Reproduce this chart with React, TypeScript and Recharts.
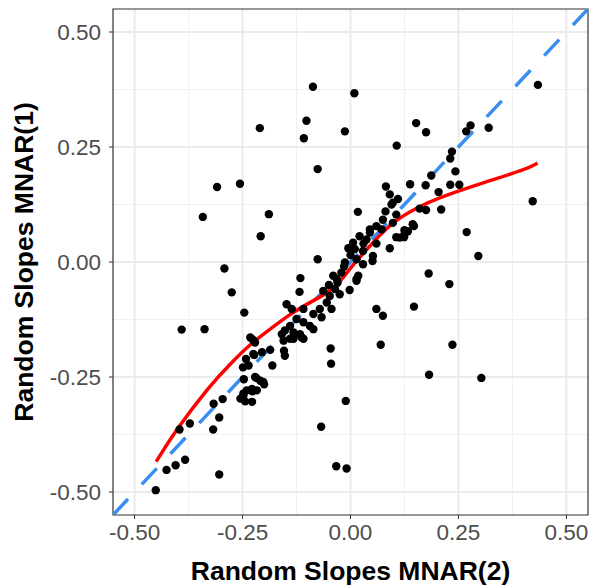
import {
  ComposedChart, Scatter, Line, XAxis, YAxis, CartesianGrid,
  ReferenceArea, Label,
} from "recharts";

const ptX = [
  -0.087, -0.210, -0.102, -0.108, -0.013, -0.076, 0.009, 0.434, 0.152, 0.175,
  0.107, 0.278, 0.268, 0.320, 0.235, 0.231, 0.243, 0.187, -0.309, -0.256,
  -0.342, -0.189, -0.208, -0.292, -0.275, -0.246, -0.391, -0.338, -0.226, -0.076,
  -0.116, -0.118, 0.082, 0.138, 0.174, 0.231, 0.252, 0.204, 0.422, 0.017,
  0.210, 0.175, 0.160, 0.110, 0.095, 0.081, 0.147, 0.125, 0.106, 0.124,
  0.091, 0.269, 0.296, 0.045, 0.006, 0.051, 0.181, 0.229, 0.014, 0.060,
  0.075, 0.147, 0.070, 0.236, -0.002, -0.451, -0.426, -0.405, -0.383, -0.396,
  -0.372, -0.318, -0.304, -0.317, -0.296, -0.304, -0.255, -0.244, -0.228, -0.248,
  -0.227, -0.218, -0.200, -0.247, -0.249, -0.242, -0.223, -0.181, -0.152, -0.154,
  -0.186, -0.155, -0.132, -0.109, -0.046, -0.045, -0.011, -0.068, -0.033, -0.009,
  0.182, 0.303, -0.232, -0.221, -0.225, -0.205, -0.236, -0.209, -0.202, -0.221,
  -0.240, -0.228, -0.217, -0.248, -0.152, -0.140, -0.113, -0.132, -0.013, -0.021,
  -0.032, -0.036, -0.048, -0.063, -0.055, -0.071, -0.044, -0.086, -0.067, -0.094,
  -0.086, -0.109, -0.125, -0.140, -0.148, -0.136, -0.109, -0.159, -0.117, 0.091,
  0.098, 0.106, 0.075, 0.098, 0.072, 0.060, 0.045, 0.037, 0.021, 0.010,
  0.029, 0.052, 0.114, 0.125, 0.144, 0.133, 0.014, 0.029, 0.018, 0.014,
  -0.030, -0.040, -0.025, -0.050, -0.015, 0.000, -0.005, 0.030, 0.060,
];
const ptY = [
  0.381, 0.291, 0.307, 0.269, 0.284, 0.202, 0.367, 0.385, 0.302, 0.282,
  0.253, 0.297, 0.284, 0.292, 0.240, 0.225, 0.197, 0.188, 0.163, 0.170,
  0.098, 0.104, 0.056, -0.014, -0.066, -0.110, -0.147, -0.146, -0.169, 0.006,
  -0.035, -0.065, 0.164, 0.169, 0.167, 0.168, 0.168, 0.152, 0.132, 0.109,
  0.114, 0.113, 0.116, 0.137, 0.125, 0.110, 0.078, 0.069, 0.054, 0.054,
  0.030, 0.065, 0.013, 0.071, 0.042, 0.002, -0.025, -0.048, -0.037, -0.102,
  -0.117, -0.097, -0.180, -0.180, -0.061, -0.496, -0.452, -0.442, -0.430, -0.364,
  -0.351, -0.364, -0.462, -0.308, -0.298, -0.338, -0.297, -0.303, -0.304, -0.286,
  -0.281, -0.252, -0.266, -0.255, -0.229, -0.211, -0.202, -0.225, -0.204, -0.193,
  -0.191, -0.171, -0.167, -0.167, -0.188, -0.221, -0.302, -0.358, -0.444, -0.449,
  -0.245, -0.252, -0.164, -0.175, -0.200, -0.196, -0.225, -0.258, -0.261, -0.250,
  -0.279, -0.276, -0.279, -0.290, -0.149, -0.167, -0.164, -0.153, -0.001, -0.023,
  -0.037, -0.059, -0.074, -0.063, -0.088, -0.102, -0.102, -0.113, -0.120, -0.139,
  -0.146, -0.131, -0.124, -0.139, -0.092, -0.102, -0.102, -0.157, -0.157, 0.147,
  0.129, 0.103, 0.092, 0.085, 0.071, 0.078, 0.064, 0.049, 0.056, 0.028,
  0.024, 0.013, 0.053, 0.060, 0.082, 0.067, 0.006, -0.005, -0.030, -0.041,
  -0.045, -0.030, -0.070, -0.050, -0.010, 0.015, 0.030, 0.040, 0.040,
];

// loess smoother
const smoothX = [-0.450, -0.402, -0.325, -0.278, -0.232, -0.186, -0.140, -0.094, -0.055, -0.032, -0.013, 0.000, 0.045, 0.091, 0.152, 0.214, 0.306, 0.406, 0.433];
const smoothY = [-0.434, -0.362, -0.268, -0.221, -0.178, -0.146, -0.113, -0.088, -0.068, -0.050, -0.030, -0.012, 0.035, 0.083, 0.118, 0.143, 0.172, 0.201, 0.215];

// identity line y = x
const diagX = [-0.55, 0.55];
const diagY = [-0.55, 0.55];

const ticks = [-0.5, -0.25, 0, 0.25, 0.5];
const minorTicks = [-0.375, -0.125, 0.125, 0.375];

const points = ptX.map((x, i) => ({ x, y: ptY[i] }));
const smooth = smoothX.map((x, i) => ({ x, y: smoothY[i] }));
const diag = diagX.map((x, i) => ({ x, y: diagY[i] }));

const FONT = "'Liberation Sans', Arial, sans-serif";
const tickStyle = { fontFamily: FONT, fontSize: 22.5, fill: "#4d4d4d" };
const titleStyle = { fontFamily: FONT, fontSize: 26.5, fontWeight: 700, fill: "#000" };

const Dot = (p: any) => <circle cx={p.cx} cy={p.cy} r={4.2} fill="#000" />;

export default function App() {
  return (
    <div style={{ position: "absolute", left: 0, top: 0, background: "#fff" }}>
      <ComposedChart width={592} height={587} margin={{ top: 9, right: 4, left: 0, bottom: 0 }}>
        <CartesianGrid
          horizontalValues={minorTicks} verticalValues={minorTicks}
          stroke="#f0f0f0" strokeWidth={1} fill="none"
        />
        <CartesianGrid
          horizontalValues={ticks} verticalValues={ticks}
          stroke="#ebebeb" strokeWidth={2} fill="none"
        />
        <XAxis
          type="number" dataKey="x" domain={[-0.55, 0.55]} ticks={ticks}
          allowDataOverflow height={72}
          tickFormatter={(v: number) => v.toFixed(2)}
          tick={tickStyle} tickSize={4} tickMargin={5}
          axisLine={false} tickLine={{ stroke: "#333" }}
        >
          <Label value="Random Slopes MNAR(2)" position="insideBottom" offset={7} style={titleStyle} />
        </XAxis>
        <YAxis
          type="number" dataKey="y" domain={[-0.55, 0.55]} ticks={ticks}
          allowDataOverflow width={113}
          tickFormatter={(v: number) => v.toFixed(2)}
          tick={tickStyle} tickSize={4} tickMargin={8}
          axisLine={false} tickLine={{ stroke: "#333" }}
        >
          <Label
            content={(props: any) => {
              const vb = props.viewBox;
              const cy = vb.y + vb.height / 2;
              return (
                <text
                  x={24} y={cy} transform={`rotate(-90, 24, ${cy})`}
                  textAnchor="middle" dominantBaseline="central" style={titleStyle}
                >
                  Random Slopes MNAR(1)
                </text>
              );
            }}
          />
        </YAxis>
        <Scatter data={points} dataKey="y" shape={Dot} isAnimationActive={false} />
        <Line
          data={diag} dataKey="y" type="linear" stroke="#3a8ef0" strokeWidth={3.5}
          strokeDasharray="22 20" dot={false} activeDot={false} isAnimationActive={false}
        />
        <Line
          data={smooth} dataKey="y" type="basis" stroke="#ff0000" strokeWidth={3.5}
          dot={false} activeDot={false} isAnimationActive={false}
        />
        <ReferenceArea
          x1={-0.55} x2={0.55} y1={-0.55} y2={0.55}
          fill="none" fillOpacity={0} stroke="#333" strokeWidth={1.2}
        />
      </ComposedChart>
    </div>
  );
}
